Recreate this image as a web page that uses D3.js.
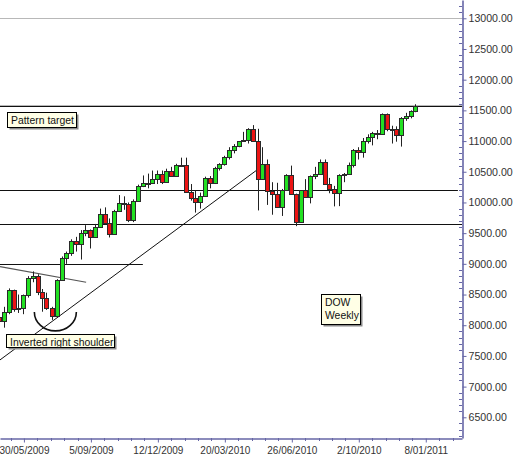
<!DOCTYPE html>
<html><head><meta charset="utf-8">
<script src="https://cdn.jsdelivr.net/npm/d3@7/dist/d3.min.js"></script>
<style>
body{margin:0;background:#fff;}
svg{display:block;font-family:"Liberation Sans",Arial,sans-serif;}
</style>
</head><body>
<svg id="c" width="516" height="457"></svg>
<script>
// ---- DATA (DOW weekly) ----
const dates = ["2009-04-24","2009-05-01","2009-05-08","2009-05-15","2009-05-22","2009-05-29","2009-06-05","2009-06-12","2009-06-19","2009-06-26",
"2009-07-02","2009-07-10","2009-07-17","2009-07-24","2009-07-31","2009-08-07","2009-08-14","2009-08-21","2009-08-28","2009-09-04",
"2009-09-11","2009-09-18","2009-09-25","2009-10-02","2009-10-09","2009-10-16","2009-10-23","2009-10-30","2009-11-06","2009-11-13",
"2009-11-20","2009-11-27","2009-12-04","2009-12-11","2009-12-18","2009-12-24","2009-12-31","2010-01-08","2010-01-15","2010-01-22",
"2010-01-29","2010-02-05","2010-02-12","2010-02-19","2010-02-26","2010-03-05","2010-03-12","2010-03-19","2010-03-26","2010-04-02",
"2010-04-09","2010-04-16","2010-04-23","2010-04-30","2010-05-07","2010-05-14","2010-05-21","2010-05-28","2010-06-04","2010-06-11",
"2010-06-18","2010-06-25","2010-07-02","2010-07-09","2010-07-16","2010-07-23","2010-07-30","2010-08-06","2010-08-13","2010-08-20",
"2010-08-27","2010-09-03","2010-09-10","2010-09-17","2010-09-24","2010-10-01","2010-10-08","2010-10-15","2010-10-22","2010-10-29",
"2010-11-05","2010-11-12","2010-11-19","2010-11-26","2010-12-03","2010-12-10","2010-12-17","2010-12-23"];
const openV = [8131,8076,8212,8575,8268,8277,8500,8764,8799,8539,
8438,8280,8146,8744,9093,9171,9370,9321,9505,9544,
9441,9605,9820,9665,9487,9864,9995,9972,9712,10023,
10270,10318,10309,10388,10471,10328,10520,10428,10618,10609,
10172,10067,10012,10099,10402,10325,10566,10625,10742,10850,
10927,10997,11019,11204,11009,10380,10620,10193,10137,9931,
10211,10450,10144,9686,10198,10097,10424,10466,10653,10303,
10213,10150,10448,10462,10607,10860,10829,11006,11062,11133,
11118,11444,11192,11204,11092,11382,11410,11492];
const highV = [8176,8300,8600,8580,8500,8500,8800,8877,8830,8590,
8530,8300,8750,9120,9200,9400,9440,9550,9630,9560,
9650,9900,9920,9740,9880,10120,10100,10000,10050,10290,
10440,10470,10520,10520,10520,10550,10580,10630,10730,10730,
10300,10200,10160,10420,10430,10580,10640,10760,10900,10950,
11000,11150,11210,11260,11200,10900,10700,10330,10320,10220,
10460,10600,10144,10200,10380,10440,10580,10700,10700,10400,
10270,10460,10480,10650,10870,10900,11050,11110,11150,11180,
11450,11450,11250,11240,11390,11460,11500,11600];
const lowV = [7845,7960,8180,8220,8200,8180,8450,8700,8490,8220,
8250,8087,8140,8730,9000,9130,9200,9070,9450,9250,
9430,9600,9640,9430,9480,9860,9880,9680,9680,10010,
10250,10230,10300,10300,10300,10320,10420,10420,10580,10170,
10030,9835,9900,10090,10230,10300,10520,10600,10700,10800,
10900,10990,10960,11000,9870,10380,9960,9800,9930,9780,
10200,10130,9614,9680,10080,9985,10380,10460,10300,10150,
9936,9940,10330,10460,10570,10700,10730,10960,10930,11030,
11100,11160,10960,10990,10910,11330,11370,11470];
const closeV = [8076,8212,8575,8268,8277,8500,8764,8799,8539,8438,
8280,8146,8744,9093,9171,9370,9321,9505,9544,9441,
9605,9820,9665,9487,9864,9995,9972,9712,10023,10270,
10318,10309,10388,10471,10328,10520,10428,10618,10609,10172,
10067,10012,10099,10402,10325,10566,10625,10742,10850,10927,
10997,11019,11204,11009,10380,10620,10193,10137,9931,10211,
10450,10144,9686,10198,10097,10424,10466,10653,10303,10213,
10150,10448,10462,10607,10860,10829,11006,11062,11133,11118,
11444,11192,11204,11092,11382,11410,11492,11573];

const yTickValues = [6500,7000,7500,8000,8500,9000,9500,10000,10500,11000,11500,12000,12500,13000];
const xTickLabels = ["30/05/2009","5/09/2009","12/12/2009","20/03/2010","26/06/2010","2/10/2010","8/01/2011"];

// horizontal reference lines
const gridValues = [13000, 11590];
const levelLines = [
  {v:11565, from:"2009-04-20", to:"2011-03-05"},
  {v:10200, from:"2009-04-20", to:"2011-02-24"},
  {v:9655,  from:"2009-04-20", to:"2011-03-05"},
  {v:9000,  from:"2009-04-20", to:"2009-11-20"}
];
const neckline = [["2009-04-25", 8954], ["2009-08-29", 8700]];
const trendline = [["2009-04-25", 7435], ["2010-05-05", 10521]];
const shoulderArc = {date:"2009-07-15", v:8217};
const notes = [
  {lines:["Pattern target"], date:"2009-05-05", v:11474, w:69, h:15},
  {lines:["Inverted right shoulder"], date:"2009-05-04", v:7857, w:108, h:13},
  {lines:["DOW","Weekly"], date:"2010-08-08", v:8504, w:39, h:30}
];

// ---- CHART ----
const parse = d3.timeParse("%Y-%m-%d");
const parseLbl = d3.timeParse("%d/%m/%Y");
const svg = d3.select("#c");
const W = 462, H = 438;
const x = d3.scaleTime().domain([new Date(2009,3,25), new Date(2011,2,2)]).range([0, W]);
const y = d3.scaleLinear().domain([6163, 13298]).range([H, 0]);
const axisCol = "#6666a6";

const g = svg.append("g");
svg.append("clipPath").attr("id","pc").append("rect").attr("x",0).attr("y",0).attr("width",W).attr("height",H);
const plot = g.append("g").attr("clip-path","url(#pc)");

// gridlines
plot.selectAll(".grid").data(gridValues).join("line")
  .attr("x1",0).attr("x2",W)
  .attr("y1",d=>Math.round(y(d))+0.5).attr("y2",d=>Math.round(y(d))+0.5)
  .attr("stroke","#b8b8b8").attr("stroke-width",1);

// level lines
plot.selectAll(".lvl").data(levelLines).join("line")
  .attr("x1",d=>x(parse(d.from))).attr("x2",d=>x(parse(d.to)))
  .attr("y1",d=>Math.round(y(d.v))+0.5).attr("y2",d=>Math.round(y(d.v))+0.5)
  .attr("stroke","#111").attr("stroke-width",1.2);

const lineGen = d3.line().x(d=>x(parse(d[0]))).y(d=>y(d[1]));
plot.append("path").attr("d",lineGen(neckline)).attr("fill","none").attr("stroke","#555").attr("stroke-width",1.2);
plot.append("path").attr("d",lineGen(trendline)).attr("fill","none").attr("stroke","#111").attr("stroke-width",1);

// arc (smile) under right shoulder
{
  const cx = x(parse(shoulderArc.date)), cy = y(shoulderArc.v);
  const rx = 21, ry = 19;
  plot.append("path")
    .attr("d",`M${cx-rx},${cy} A${rx},${ry} 0 0 0 ${cx+rx},${cy}`)
    .attr("fill","none").attr("stroke","#111").attr("stroke-width",1.6);
}

// candles
const candles = dates.map((d,i)=>({d:parse(d),o:openV[i],h:highV[i],l:lowV[i],c:closeV[i]}));
const cg = plot.append("g");
cg.selectAll(".wick").data(candles).join("line")
  .attr("x1",d=>Math.round(x(d.d))+0.5).attr("x2",d=>Math.round(x(d.d))+0.5)
  .attr("y1",d=>y(d.h)).attr("y2",d=>y(d.l))
  .attr("stroke","#222").attr("stroke-width",1);
cg.selectAll(".body").data(candles).join("rect")
  .attr("x",d=>Math.round(x(d.d))-1.5)
  .attr("width",4)
  .attr("y",d=>Math.round(y(Math.max(d.o,d.c)))+0.5)
  .attr("height",d=>Math.max(1, Math.round(y(Math.min(d.o,d.c))) - Math.round(y(Math.max(d.o,d.c)))))
  .attr("fill",d=>d.c>=d.o?"#22e022":"#ec1414")
  .attr("stroke","#2a2a2a").attr("stroke-width",1);

// notes
notes.forEach(n=>{
  const bx = Math.round(x(parse(n.date)))+0.5, by = Math.round(y(n.v))+0.5;
  const ng = g.append("g");
  ng.append("rect").attr("x",bx+2).attr("y",by+2).attr("width",n.w).attr("height",n.h).attr("fill","#8a8a8a");
  ng.append("rect").attr("x",bx).attr("y",by).attr("width",n.w).attr("height",n.h).attr("fill","#ffffe6").attr("stroke","#000").attr("stroke-width",1);
  n.lines.forEach((t,k)=>{
    ng.append("text").attr("x",bx+3.5).attr("y",by+11+k*13.5).text(t)
      .attr("font-size","10.4px").attr("fill","#111");
  });
});

// y axis
const yAxis = d3.axisRight(y).tickValues(yTickValues).tickFormat(d3.format(".2f")).tickSize(4).tickSizeOuter(0).tickPadding(2);
const ya = g.append("g").attr("transform",`translate(${W+0.5},0)`).call(yAxis);
ya.select(".domain").attr("stroke",axisCol).attr("stroke-width",1.6);
ya.selectAll(".tick line").attr("stroke",axisCol);
ya.selectAll(".tick text").attr("fill","#333").attr("font-size","10.6px").attr("font-family","Liberation Sans, Arial, sans-serif");
const yMinor = d3.range(6200, 13300, 100).filter(v=>v%500!==0);
g.selectAll(".ymin").data(yMinor).join("line")
  .attr("x1",W-3).attr("x2",W)
  .attr("y1",d=>Math.round(y(d))+0.5).attr("y2",d=>Math.round(y(d))+0.5)
  .attr("stroke",axisCol).attr("stroke-width",1);

// x axis
const xTickDates = xTickLabels.map(parseLbl);
const xAxis = d3.axisBottom(x).tickValues(xTickDates).tickFormat((d,i)=>xTickLabels[i]).tickSize(4).tickSizeOuter(0).tickPadding(4);
const xa = g.append("g").attr("transform",`translate(0,${H+0.5})`).call(xAxis);
xa.select(".domain").attr("stroke",axisCol).attr("stroke-width",1.6);
xa.selectAll(".tick line").attr("stroke",axisCol);
xa.selectAll(".tick text").attr("fill","#333").attr("font-size","10px").attr("font-family","Liberation Sans, Arial, sans-serif");
const step = (xTickDates[1]-xTickDates[0])/5;
const xMinor = d3.range(-5, 36).filter(k=>k%5!==0).map(k=>new Date(+xTickDates[0]+k*step)).filter(d=>x(d)>=0 && x(d)<=W);
g.selectAll(".xmin").data(xMinor).join("line")
  .attr("x1",d=>Math.round(x(d))+0.5).attr("x2",d=>Math.round(x(d))+0.5)
  .attr("y1",H).attr("y2",H+3)
  .attr("stroke",axisCol).attr("stroke-width",1);
</script>
</body></html>
